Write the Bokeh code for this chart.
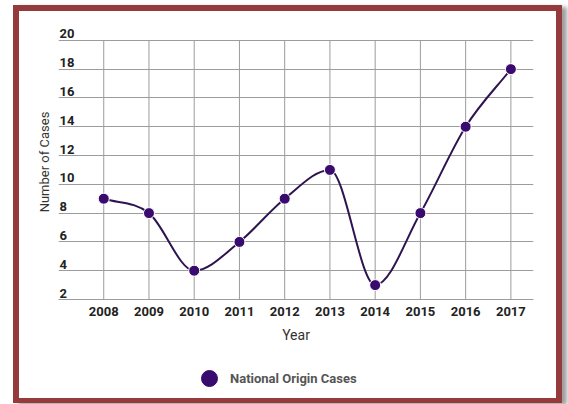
import numpy as np
from bokeh.plotting import figure
from bokeh.layouts import column
from bokeh.models import (FixedTicker, Legend, LegendItem, ColumnDataSource,
                          Range1d, LabelSet)
from bokeh.core.properties import value
from bokeh.embed import file_html
from bokeh.resources import INLINE

# ---- data ----
years = [2008, 2009, 2010, 2011, 2012, 2013, 2014, 2015, 2016, 2017]
cases = [9, 8, 4, 6, 9, 11, 3, 8, 14, 18]
y_ticks = [2, 4, 6, 8, 10, 12, 14, 16, 18, 20]
y_tick_labels = [str(t) for t in y_ticks]
x_tick_labels = {y: str(y) for y in years}
series_name = "National Origin Cases"
x_title = "Year"
y_title = "Number of Cases"

# ---- monotone cubic (Fritsch-Carlson) control points ----
xs = np.array(years, dtype=float)
ys = np.array(cases, dtype=float)
n = len(xs)
dx = np.diff(xs)
delta = np.diff(ys) / dx
m = np.zeros(n)
m[0] = delta[0]
m[-1] = delta[-1]
for k in range(1, n - 1):
    if delta[k - 1] * delta[k] <= 0:
        m[k] = 0.0
    else:
        m[k] = (delta[k - 1] + delta[k]) / 2
for k in range(n - 1):
    if delta[k] == 0:
        m[k] = m[k + 1] = 0.0
        continue
    a = m[k] / delta[k]
    b = m[k + 1] / delta[k]
    s = a * a + b * b
    if s > 9:
        t = 3 / np.sqrt(s)
        m[k] = t * a * delta[k]
        m[k + 1] = t * b * delta[k]

seg = dict(
    x0=xs[:-1], y0=ys[:-1], x1=xs[1:], y1=ys[1:],
    cx0=xs[:-1] + dx / 3, cy0=ys[:-1] + m[:-1] * dx / 3,
    cx1=xs[1:] - dx / 3, cy1=ys[1:] - m[1:] * dx / 3,
)

FONT = "Roboto"
GRID = "#9c9c9c"
PURPLE = "#3a0b6e"

p = figure(width=537, height=338,
           x_range=Range1d(2007, 2017.5), y_range=Range1d(2, 21.1),
           output_backend="svg", toolbar_location=None,
           min_border_left=39, min_border_right=23,
           min_border_top=13, min_border_bottom=50,
           background_fill_color="white", border_fill_color="white",
           outline_line_color=None)

# grid
p.xgrid.visible = False
p.ygrid.ticker = FixedTicker(ticks=y_ticks)
p.ygrid.grid_line_color = GRID
p.ygrid.grid_line_width = 1
p.segment(x0=years, y0=[y_ticks[0]] * len(years), x1=years,
          y1=[y_ticks[-1]] * len(years), line_color=GRID, line_width=1)

# x axis
xa = p.xaxis[0]
xa.ticker = FixedTicker(ticks=years)
xa.major_label_overrides = x_tick_labels
xa.major_tick_out = 0
xa.major_tick_in = 0
xa.minor_tick_out = 0
xa.minor_tick_in = 0
xa.axis_line_color = GRID
xa.major_label_standoff = 7
xa.major_label_text_font = FONT
xa.major_label_text_font_style = "bold"
xa.major_label_text_font_size = "13px"
xa.major_label_text_color = "#222222"
xa.axis_label = x_title
xa.axis_label_text_font = FONT
xa.axis_label_text_font_style = "normal"
xa.axis_label_text_font_size = "14px"
xa.axis_label_text_color = "#333333"
xa.axis_label_standoff = 8

# y axis (title only)
ya = p.yaxis[0]
ya.ticker = FixedTicker(ticks=[])
ya.major_tick_out = 0
ya.major_tick_in = 0
ya.minor_tick_out = 0
ya.minor_tick_in = 0
ya.axis_line_color = None
ya.major_label_standoff = 0
ya.axis_label = y_title
ya.axis_label_text_font = FONT
ya.axis_label_text_font_style = "normal"
ya.axis_label_text_font_size = "13px"
ya.axis_label_text_color = "#333333"
ya.axis_label_standoff = 7

# y tick labels, drawn above their grid lines inside the frame
lab_src = ColumnDataSource(dict(x=[2007] * len(y_ticks), y=y_ticks, t=y_tick_labels))
labels = LabelSet(x="x", y="y", text="t", source=lab_src, x_offset=1, y_offset=2,
                  text_font=value(FONT), text_font_style="bold",
                  text_font_size="13px", text_color="#222222",
                  text_align="left", text_baseline="bottom")
p.add_layout(labels)

# line + points
p.bezier(x0="x0", y0="y0", x1="x1", y1="y1", cx0="cx0", cy0="cy0",
         cx1="cx1", cy1="cy1", source=ColumnDataSource(seg),
         line_color="#2e1450", line_width=2)
p.scatter(years, cases, size=11, fill_color=PURPLE, line_color="white",
          line_width=1)

# legend strip below the chart
lf = figure(width=537, height=49, x_range=Range1d(0, 1), y_range=Range1d(0, 1),
            output_backend="svg", toolbar_location=None,
            x_axis_type=None, y_axis_type=None, min_border=0,
            background_fill_color="white", border_fill_color="white",
            outline_line_color=None)
lf.grid.visible = False
# proxy renderer for the legend key (its point lies outside the strip's range)
leg_r = lf.scatter(x=[years[0]], y=[cases[0]], size=15, fill_color=PURPLE,
                   line_color=PURPLE)
legend = Legend(items=[LegendItem(label=series_name, renderers=[leg_r])],
                location=(131, 0), orientation="horizontal",
                glyph_width=40, glyph_height=40, label_standoff=1,
                padding=0, margin=0, spacing=0,
                border_line_color=None, background_fill_alpha=0,
                label_text_font=FONT, label_text_font_style="bold",
                label_text_font_size="13px", label_text_color="#555555")
lf.add_layout(legend)

layout = column(p, lf, spacing=0,
                styles={"border": "6px solid #953b3b",
                        "border-bottom-width": "5px",
                        "box-shadow": "5px 2px 4px #a0a0a0",
                        "margin-left": "13px", "margin-top": "5px"})

open("out.html", "w").write(file_html(layout, INLINE))
